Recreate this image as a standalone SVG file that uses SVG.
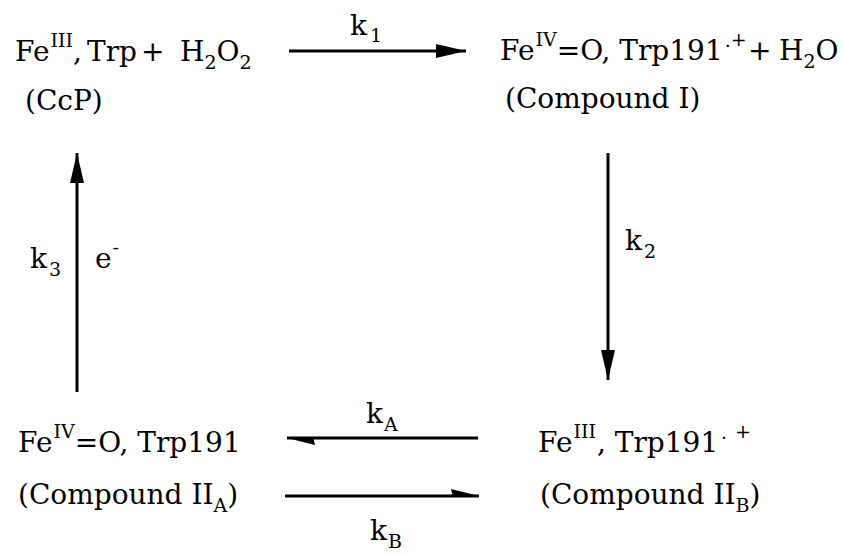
<svg xmlns="http://www.w3.org/2000/svg" width="844" height="554" viewBox="0 0 844 554">
<style>
.t{font-family:"DejaVu Serif","Liberation Serif",serif;font-size:28px;fill:#000}
.s{font-size:19px}
.ln{stroke:#000;stroke-width:3;fill:none}
</style>
<defs>
<marker id="full" markerUnits="userSpaceOnUse" markerWidth="40" markerHeight="20" viewBox="0 -10 40 20" refX="30" refY="0" orient="auto" overflow="visible">
<path d="M0,-7 L30,0 L0,7 Z" fill="#000"/>
</marker>
<marker id="half" markerUnits="userSpaceOnUse" markerWidth="40" markerHeight="20" viewBox="0 -10 40 20" refX="28" refY="0" orient="auto" overflow="visible">
<path d="M28,0 L0,-7 L2,1 Z" fill="#000"/>
</marker>
</defs>
<rect width="844" height="554" fill="#fff"/>
<g id="node-ccp">
<text class="t" y="61"><tspan x="15">Fe</tspan><tspan class="s" dx="1" y="47">III</tspan><tspan x="73" y="61">,</tspan><tspan x="87">Trp</tspan><tspan x="141">+</tspan><tspan x="180">H</tspan><tspan class="s" y="69">2</tspan><tspan y="61">O</tspan><tspan class="s" y="69">2</tspan></text>
<text class="t" x="25" y="110">(CcP)</text>
</g>
<g id="node-compound-i">
<text class="t" y="60"><tspan x="500">Fe</tspan><tspan class="s" dx="1" y="46">IV</tspan><tspan y="60">=O, Trp191</tspan><tspan class="s" dx="2" y="52">·</tspan><tspan class="s" y="46">+</tspan><tspan x="748" y="60">+</tspan><tspan x="779">H</tspan><tspan class="s" y="68">2</tspan><tspan y="60">O</tspan></text>
<text class="t" x="505" y="108">(Compound I)</text>
</g>
<g id="node-compound-iia">
<text class="t" y="452"><tspan x="18">Fe</tspan><tspan class="s" dx="1" y="438">IV</tspan><tspan y="452">=O, Trp191</tspan></text>
<text class="t" y="504"><tspan x="18">(Compound II</tspan><tspan class="s" y="512">A</tspan><tspan y="504">)</tspan></text>
</g>
<g id="node-compound-iib">
<text class="t" y="452"><tspan x="538">Fe</tspan><tspan class="s" dx="1" y="438">III</tspan><tspan x="597" y="452">, Trp191</tspan><tspan class="s" x="721" y="444">·</tspan><tspan class="s" x="735" y="438">+</tspan></text>
<text class="t" y="504"><tspan x="540">(Compound II</tspan><tspan class="s" y="512">B</tspan><tspan y="504">)</tspan></text>
</g>
<g id="connectors">
<path class="ln" d="M289,51 H466" marker-end="url(#full)"/>
<path class="ln" d="M608,153 V380" marker-end="url(#full)"/>
<path class="ln" d="M77,392 V153" marker-end="url(#full)"/>
<path class="ln" d="M478,438 H287" marker-end="url(#half)"/>
<path class="ln" d="M285,496 H479" marker-end="url(#half)"/>
<text class="t" y="35"><tspan x="350">k</tspan><tspan class="s" dx="3" y="42">1</tspan></text>
<text class="t" y="250"><tspan x="625">k</tspan><tspan class="s" dx="2" y="258">2</tspan></text>
<text class="t" y="268"><tspan x="30">k</tspan><tspan class="s" dx="2" y="276">3</tspan></text>
<text class="t" y="268"><tspan x="95">e</tspan><tspan class="s" dx="1" y="254">-</tspan></text>
<text class="t" y="423"><tspan x="366">k</tspan><tspan class="s" dx="1" y="431">A</tspan></text>
<text class="t" y="540"><tspan x="370">k</tspan><tspan class="s" dx="1" y="548">B</tspan></text>
</g>
</svg>
